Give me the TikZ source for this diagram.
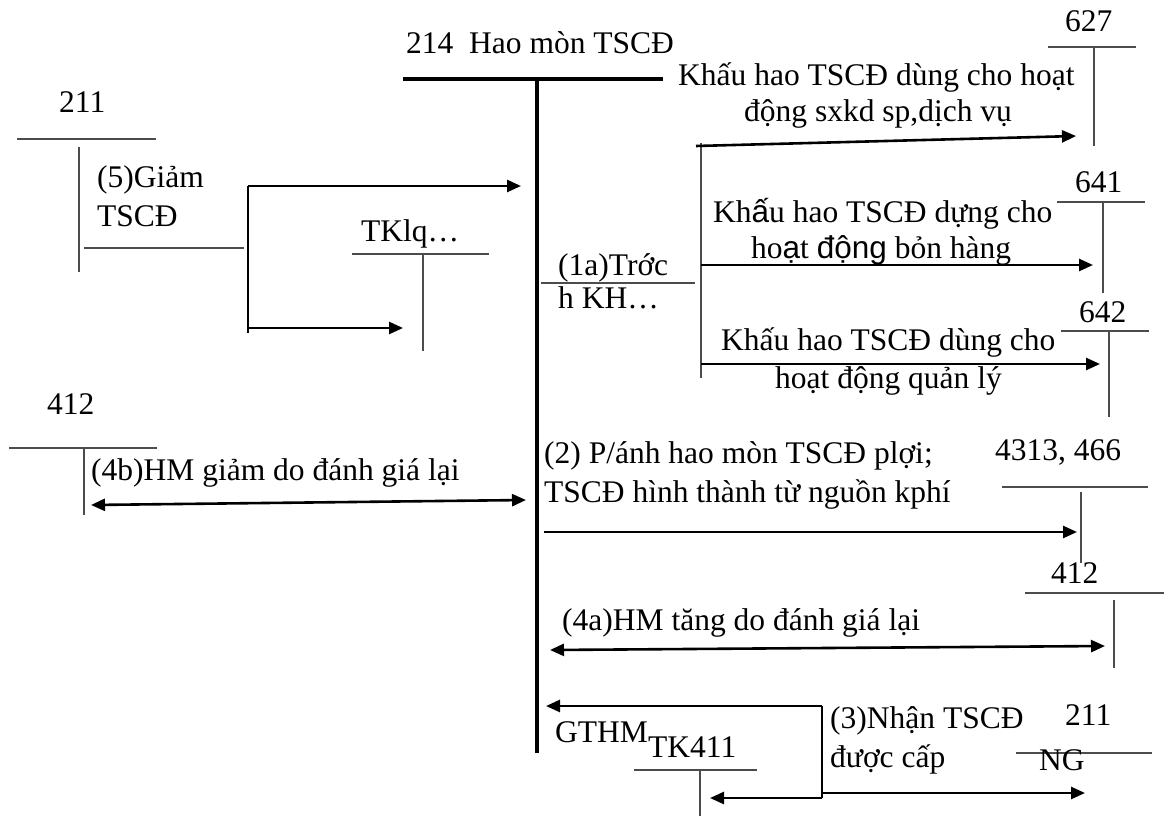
\documentclass[tikz,border=0pt]{standalone}
\usepackage{fontspec}
\setmainfont{Liberation Serif}
\newfontfamily\sansvn{Liberation Sans}
\usetikzlibrary{arrows.meta}

\begin{document}
\begin{tikzpicture}[
  x=1pt, y=-1pt,
  txt/.style={
    inner sep=0pt, anchor=base west,
    font=\fontsize{31.5}{36}\selectfont
  },
  heavy/.style={
    line width=4.2pt, draw=black
  },
  tline/.style={
    line width=1.1pt, draw=black!70
  },
  arrow/.style={
    -{Triangle[length=14pt,width=12pt]}, line width=2.6pt, draw=black
  },
  darrow/.style={
    {Triangle[length=14pt,width=12pt]}-{Triangle[length=14pt,width=12pt]},
    line width=2.6pt, draw=black
  }
]
\useasboundingbox (0,0) rectangle (1164,816);

% Main account 214
\node[txt] (head) at (406,53) {214~~Hao mòn TSCĐ};
\coordinate (top) at (537,79);
\coordinate (bottom) at (537,753);
\draw[heavy] (403,79) -- (663,79);
\draw[heavy] (top) -- (bottom);

% Account 211 (left)
\node[txt] (n211a) at (59,112) {211};
\draw[tline] (17,139) -- (156,139);
\draw[tline] (79,147) -- (79,272);
\node[txt] (g5a) at (97,187) {(5)Giảm};
\node[txt] (g5b) at (97,226) {TSCĐ};
\draw[tline] (84,248) -- (244,248);

% Account TKlq
\node[txt] (tklq) at (361,241) {TKlq…};
\draw[tline] (352,254) -- (489,254);
\draw[tline] (423,254) -- (423,351);

% (5) split arrows
\coordinate (b5top) at (248,186);
\coordinate (b5bot) at (248,328);
\coordinate (to214) at (521,186);
\coordinate (tolq) at (403,328);
\draw[tline, draw=black] (248,186) -- (248,333);
\draw[arrow] (b5top) -- (to214);
\draw[arrow] (b5bot) -- (tolq);

% (1a) depreciation
\node[txt] (t1a) at (558,275) {(1a)Trớc};
\node[txt] (t1b) at (558,308) {h KH…};
\draw[tline] (541,283) -- (695,283);
\coordinate (kh627) at (696,146);
\coordinate (kh641) at (701,265);
\coordinate (kh642) at (701,364);
\draw[tline] (701,143) -- (701,378);

% Account 627
\node[txt] (n627) at (1065,32) {627};
\draw[tline] (1048,47) -- (1136,47);
\draw[tline] (1094,47) -- (1094,146);
\node[txt] (k627a) at (678,85) {Khấu hao TSCĐ dùng cho hoạt};
\node[txt] (k627b) at (744,121) {động sxkd sp,dịch vụ};
\coordinate (in627) at (1076,136);
\draw[arrow] (kh627) -- (in627);

% Account 641
\node[txt] (n641) at (1075,192) {641};
\draw[tline] (1057,202) -- (1145,202);
\draw[tline] (1103,202) -- (1103,293);
\node[txt] (k641a) at (713,222) {Kh{\sansvn ấ}u hao TSCĐ dựng cho};
\node[txt] (k641b) at (751,258) {ho{\sansvn ạ}t {\sansvn động} bỏn hàng};
\coordinate (in641) at (1093,265);
\draw[arrow] (kh641) -- (in641);

% Account 642
\node[txt] (n642) at (1079,322) {642};
\draw[tline] (1061,331) -- (1149,331);
\draw[tline] (1109,331) -- (1109,417);
\node[txt] (k642a) at (721,350) {Khấu hao TSCĐ dùng cho};
\node[txt] (k642b) at (775,388) {hoạt động quản lý};
\coordinate (in642) at (1100,364);
\draw[arrow] (kh642) -- (in642);

% Account 412 (left), (4b)
\node[txt] (n412a) at (47,414) {412};
\draw[tline] (9,448) -- (157,448);
\draw[tline] (84,448) -- (84,515);
\node[txt] (t4b) at (91,480) {(4b)HM giảm do đánh giá lại};
\coordinate (e412a) at (91,505);
\coordinate (e214b) at (526,500);
\draw[darrow] (e412a) -- (e214b);

% (2) to 4313, 466
\node[txt] (t2a) at (544,463) {(2) P/ánh hao mòn TSCĐ plợi;};
\node[txt] (t2b) at (544,502) {TSCĐ hình thành từ nguồn kphí};
\node[txt] (n4313) at (995,460) {4313, 466};
\draw[tline] (1002,487) -- (1148,487);
\draw[tline] (1081,492) -- (1081,563);
\coordinate (s2) at (544,532);
\coordinate (in4313) at (1077,532);
\draw[arrow] (s2) -- (in4313);

% Account 412 (right), (4a)
\node[txt] (n412b) at (1051,583) {412};
\draw[tline] (1025,593) -- (1164,593);
\draw[tline] (1114,600) -- (1114,668);
\node[txt] (t4a) at (562,630) {(4a)HM tăng do đánh giá lại};
\coordinate (e214a) at (550,650);
\coordinate (e412b) at (1105,646);
\draw[darrow] (e214a) -- (e412b);

% (3) received assets
\coordinate (b3top) at (822,706);
\coordinate (b3bot) at (822,798);
\coordinate (gt214) at (546,706);
\coordinate (in411) at (710,798);
\coordinate (in211) at (1085,793);
\draw[tline, draw=black] (b3top) -- (b3bot);
\draw[arrow] (b3top) -- (gt214);
\draw[arrow] (b3bot) -- (in411);
\draw[arrow] (822,793) -- (in211);
\node[txt] (gthm) at (555,742) {GTHM};
\node[txt] (tk411) at (648,757) {TK411};
\draw[tline] (634,770) -- (757,770);
\draw[tline] (700,770) -- (700,816);
\node[txt] (t3a) at (830,728) {(3)Nhận TSCĐ};
\node[txt] (t3b) at (830,767) {được cấp};
\node[txt] (n211b) at (1065,725) {211};
\draw[tline] (1016,753) -- (1152,753);
\node[txt] (ng) at (1039,770) {NG};

\end{tikzpicture}
\end{document}
